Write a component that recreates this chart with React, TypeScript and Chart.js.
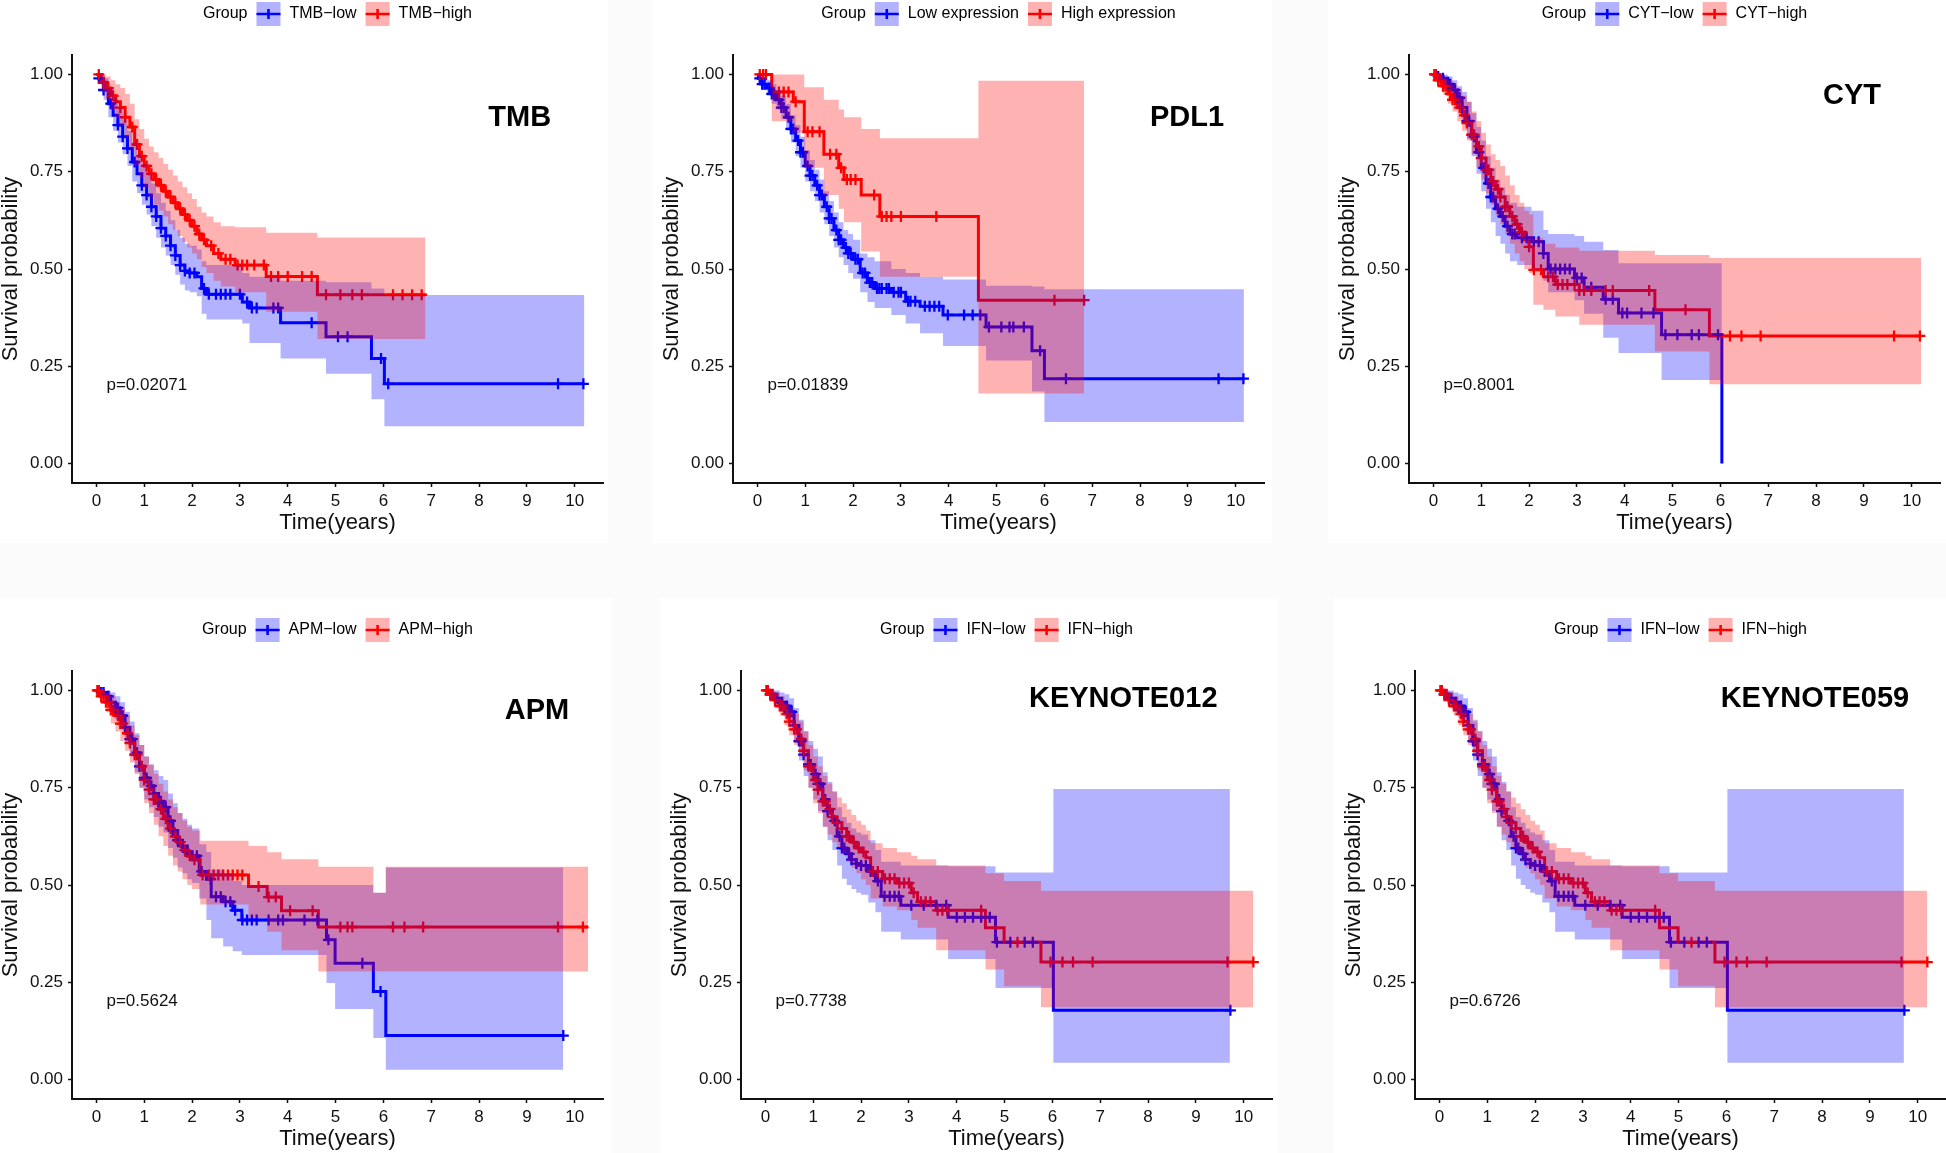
import React, { useEffect, useRef } from "react";
import { Chart, registerables } from "chart.js";

Chart.register(...registerables);

const FONT = '"Liberation Sans", Arial, Helvetica, sans-serif';
Chart.defaults.font.family = FONT;

// ---------- axes ----------
const xTicks = [0, 1, 2, 3, 4, 5, 6, 7, 8, 9, 10];
const yTicks = [0, 0.25, 0.5, 0.75, 1];

// ---------- TMB ----------
const tmbLowT = [0, 0.05, 0.15, 0.25, 0.35, 0.45, 0.55, 0.65, 0.75, 0.85, 0.95, 1.05, 1.15, 1.25, 1.35, 1.45, 1.55, 1.65, 1.75, 1.85, 1.95, 2.1, 2.2, 2.3, 3.05, 3.2, 3.85, 4.8, 5.75, 6.02, 10.2];
const tmbLowS = [1, 0.99, 0.96, 0.925, 0.895, 0.87, 0.84, 0.81, 0.775, 0.745, 0.715, 0.69, 0.66, 0.635, 0.605, 0.585, 0.56, 0.535, 0.51, 0.495, 0.49, 0.48, 0.45, 0.435, 0.415, 0.4, 0.362, 0.326, 0.27, 0.205, 0.205];
const tmbLowU = [1, 1, 0.99, 0.965, 0.94, 0.915, 0.885, 0.855, 0.825, 0.795, 0.77, 0.745, 0.72, 0.695, 0.67, 0.65, 0.625, 0.6, 0.58, 0.565, 0.56, 0.55, 0.52, 0.51, 0.49, 0.48, 0.47, 0.466, 0.45, 0.433, 0.433];
const tmbLowL = [1, 0.975, 0.935, 0.89, 0.855, 0.825, 0.795, 0.765, 0.725, 0.695, 0.665, 0.64, 0.61, 0.58, 0.555, 0.535, 0.51, 0.485, 0.46, 0.445, 0.44, 0.43, 0.385, 0.37, 0.36, 0.31, 0.27, 0.231, 0.165, 0.096, 0.096];
const tmbLowCens = [0.05, 0.15, 0.3, 0.45, 0.55, 0.65, 0.8, 0.95, 1.05, 1.15, 1.25, 1.35, 1.45, 1.55, 1.65, 1.75, 1.85, 1.95, 2.05, 2.25, 2.35, 2.5, 2.6, 2.7, 2.8, 3.0, 3.15, 3.25, 3.35, 3.7, 3.8, 4.5, 5.05, 5.25, 5.95, 6.1, 9.65, 10.18];

const tmbHighT = [0, 0.1, 0.2, 0.3, 0.4, 0.5, 0.6, 0.7, 0.8, 0.9, 1.0, 1.1, 1.2, 1.3, 1.4, 1.5, 1.6, 1.7, 1.8, 1.9, 2.0, 2.1, 2.2, 2.3, 2.45, 2.6, 2.9, 3.55, 4.62, 6.88];
const tmbHighS = [1, 0.98, 0.965, 0.945, 0.93, 0.915, 0.89, 0.865, 0.82, 0.79, 0.765, 0.745, 0.73, 0.715, 0.7, 0.685, 0.67, 0.655, 0.64, 0.625, 0.61, 0.59, 0.575, 0.56, 0.54, 0.525, 0.51, 0.481, 0.434, 0.434];
const tmbHighU = [1, 1, 0.995, 0.985, 0.975, 0.965, 0.95, 0.925, 0.885, 0.86, 0.835, 0.815, 0.8, 0.785, 0.77, 0.755, 0.74, 0.725, 0.71, 0.695, 0.68, 0.66, 0.645, 0.635, 0.62, 0.61, 0.607, 0.593, 0.581, 0.581];
const tmbHighL = [1, 0.955, 0.935, 0.91, 0.89, 0.87, 0.84, 0.81, 0.765, 0.735, 0.71, 0.685, 0.665, 0.65, 0.635, 0.615, 0.6, 0.585, 0.57, 0.555, 0.54, 0.525, 0.505, 0.49, 0.47, 0.455, 0.44, 0.39, 0.32, 0.32];
const tmbHighCens = [0.05, 0.15, 0.25, 0.35, 0.5, 0.6, 0.75, 0.85, 0.95, 1.05, 1.15, 1.25, 1.35, 1.45, 1.55, 1.65, 1.75, 1.85, 1.95, 2.05, 2.15, 2.25, 2.4, 2.55, 2.7, 2.8, 2.95, 3.05, 3.15, 3.3, 3.5, 3.65, 3.8, 4.0, 4.3, 4.5, 4.8, 5.1, 5.35, 5.55, 6.2, 6.4, 6.6, 6.8];

// ---------- PDL1 ----------
const pdlLowT = [0, 0.02, 0.1, 0.2, 0.3, 0.4, 0.5, 0.6, 0.7, 0.8, 0.9, 1.0, 1.1, 1.2, 1.3, 1.4, 1.5, 1.6, 1.7, 1.8, 1.9, 2.0, 2.15, 2.3, 2.45, 2.8, 3.1, 3.4, 3.88, 4.78, 5.74, 6.0, 10.17];
const pdlLowS = [1, 0.99, 0.975, 0.965, 0.95, 0.935, 0.915, 0.89, 0.86, 0.83, 0.8, 0.765, 0.74, 0.715, 0.69, 0.66, 0.63, 0.6, 0.575, 0.555, 0.54, 0.525, 0.49, 0.465, 0.45, 0.44, 0.417, 0.404, 0.382, 0.351, 0.29, 0.218, 0.218];
const pdlLowU = [1, 1, 0.99, 0.985, 0.975, 0.96, 0.945, 0.925, 0.895, 0.87, 0.84, 0.805, 0.78, 0.755, 0.73, 0.7, 0.675, 0.645, 0.62, 0.6, 0.59, 0.575, 0.54, 0.53, 0.52, 0.5, 0.49, 0.48, 0.473, 0.457, 0.455, 0.448, 0.448];
const pdlLowL = [1, 0.98, 0.96, 0.945, 0.925, 0.91, 0.885, 0.855, 0.825, 0.79, 0.76, 0.725, 0.7, 0.675, 0.645, 0.615, 0.585, 0.555, 0.53, 0.51, 0.49, 0.475, 0.44, 0.415, 0.4, 0.382, 0.36, 0.335, 0.302, 0.265, 0.185, 0.107, 0.107];
const pdlLowCens = [0.05, 0.1, 0.15, 0.25, 0.3, 0.35, 0.45, 0.5, 0.55, 0.65, 0.7, 0.75, 0.85, 0.9, 0.95, 1.05, 1.1, 1.15, 1.25, 1.3, 1.35, 1.45, 1.5, 1.55, 1.65, 1.7, 1.75, 1.85, 1.9, 1.95, 2.05, 2.1, 2.2, 2.25, 2.35, 2.4, 2.5, 2.55, 2.6, 2.7, 2.75, 2.85, 2.95, 3.0, 3.15, 3.2, 3.3, 3.5, 3.6, 3.7, 3.8, 3.98, 4.32, 4.5, 4.66, 4.84, 5.1, 5.27, 5.35, 5.57, 5.91, 6.45, 9.64, 10.16];

const pdlHighT = [0, 0.3, 0.75, 0.98, 1.39, 1.7, 1.81, 2.17, 2.56, 4.62, 6.83];
const pdlHighS = [1, 0.955, 0.93, 0.853, 0.795, 0.76, 0.73, 0.69, 0.635, 0.42, 0.42];
const pdlHighU = [1, 1, 1, 0.967, 0.935, 0.91, 0.89, 0.86, 0.836, 0.984, 0.984];
const pdlHighL = [1, 0.88, 0.85, 0.76, 0.69, 0.655, 0.62, 0.545, 0.48, 0.18, 0.18];
const pdlHighCens = [0.05, 0.12, 0.18, 0.45, 0.55, 0.65, 0.8, 1.05, 1.15, 1.3, 1.52, 1.65, 1.75, 1.87, 1.95, 2.05, 2.44, 2.6, 2.7, 2.8, 3.0, 3.74, 6.21, 6.83];

// ---------- CYT ----------
const cytLowT = [0, 0.1, 0.2, 0.3, 0.4, 0.5, 0.6, 0.7, 0.8, 0.9, 1.0, 1.1, 1.2, 1.3, 1.4, 1.5, 1.6, 1.75, 2.05, 2.3, 2.4, 2.95, 3.15, 3.55, 3.87, 4.77, 6.03];
const cytLowS = [1, 0.995, 0.99, 0.975, 0.96, 0.94, 0.915, 0.88, 0.84, 0.8, 0.76, 0.72, 0.685, 0.655, 0.635, 0.61, 0.59, 0.58, 0.57, 0.54, 0.5, 0.477, 0.453, 0.422, 0.387, 0.331, 0];
const cytLowU = [1, 1, 1, 0.995, 0.985, 0.97, 0.955, 0.93, 0.9, 0.865, 0.83, 0.79, 0.76, 0.73, 0.71, 0.69, 0.67, 0.66, 0.65, 0.6, 0.59, 0.585, 0.57, 0.549, 0.515, 0.515, 0.515];
const cytLowL = [1, 0.985, 0.975, 0.955, 0.935, 0.91, 0.875, 0.835, 0.79, 0.745, 0.7, 0.655, 0.62, 0.585, 0.565, 0.54, 0.52, 0.51, 0.5, 0.47, 0.44, 0.42, 0.385, 0.323, 0.284, 0.215, 0.215];
const cytLowCens = [0.05, 0.1, 0.2, 0.3, 0.35, 0.45, 0.5, 0.55, 0.6, 0.7, 0.75, 0.85, 0.95, 1.05, 1.15, 1.2, 1.25, 1.35, 1.45, 1.55, 1.65, 1.7, 1.85, 1.95, 2.1, 2.2, 2.3, 2.45, 2.55, 2.65, 2.75, 2.85, 3.0, 3.1, 3.3, 3.6, 3.75, 3.95, 4.05, 4.35, 4.6, 4.85, 5.1, 5.4, 5.55, 5.95];

const cytHighT = [0, 0.1, 0.2, 0.3, 0.4, 0.5, 0.6, 0.7, 0.8, 0.9, 1.0, 1.1, 1.2, 1.3, 1.4, 1.5, 1.6, 1.7, 1.8, 1.9, 2.0, 2.09, 2.3, 2.55, 3.05, 4.63, 5.77, 10.2];
const cytHighS = [1, 0.985, 0.97, 0.95, 0.935, 0.915, 0.895, 0.875, 0.845, 0.815, 0.785, 0.755, 0.725, 0.705, 0.685, 0.66, 0.635, 0.615, 0.595, 0.575, 0.557, 0.498, 0.48, 0.46, 0.445, 0.395, 0.328, 0.328];
const cytHighU = [1, 1, 0.995, 0.985, 0.975, 0.96, 0.945, 0.93, 0.905, 0.88, 0.85, 0.82, 0.795, 0.78, 0.765, 0.74, 0.715, 0.69, 0.67, 0.65, 0.64, 0.58, 0.565, 0.555, 0.547, 0.536, 0.528, 0.528];
const cytHighL = [1, 0.97, 0.95, 0.925, 0.905, 0.88, 0.855, 0.83, 0.795, 0.76, 0.73, 0.695, 0.665, 0.64, 0.615, 0.59, 0.565, 0.54, 0.52, 0.5, 0.49, 0.408, 0.395, 0.378, 0.357, 0.288, 0.204, 0.204];
const cytHighCens = [0.02, 0.05, 0.1, 0.15, 0.2, 0.25, 0.35, 0.4, 0.45, 0.55, 0.65, 0.7, 0.8, 0.85, 0.95, 1.0, 1.1, 1.15, 1.25, 1.35, 1.4, 1.5, 1.55, 1.65, 1.75, 1.85, 2.0, 2.1, 2.25, 2.4, 2.5, 2.6, 2.7, 2.8, 2.95, 3.05, 3.15, 3.3, 3.6, 3.75, 4.51, 5.27, 6.2, 6.44, 6.84, 9.63, 10.17];

// ---------- APM ----------
const apmLowT = [0, 0.1, 0.2, 0.3, 0.4, 0.5, 0.6, 0.7, 0.8, 0.9, 1.0, 1.1, 1.2, 1.3, 1.4, 1.5, 1.6, 1.7, 1.8, 1.9, 2.0, 2.15, 2.3, 2.4, 2.65, 2.85, 3.04, 4.81, 4.99, 5.79, 6.05, 9.76];
const apmLowS = [1, 0.995, 0.985, 0.97, 0.955, 0.935, 0.905, 0.875, 0.84, 0.805, 0.775, 0.755, 0.735, 0.715, 0.7, 0.665, 0.64, 0.615, 0.6, 0.585, 0.575, 0.535, 0.515, 0.47, 0.457, 0.435, 0.41, 0.359, 0.299, 0.226, 0.113, 0.113];
const apmLowU = [1, 1, 1, 0.995, 0.985, 0.97, 0.945, 0.92, 0.89, 0.86, 0.83, 0.81, 0.795, 0.78, 0.77, 0.735, 0.71, 0.685, 0.67, 0.655, 0.645, 0.605, 0.585, 0.54, 0.53, 0.51, 0.5, 0.5, 0.5, 0.48, 0.545, 0.545];
const apmLowL = [1, 0.985, 0.97, 0.945, 0.925, 0.9, 0.865, 0.83, 0.79, 0.75, 0.72, 0.7, 0.675, 0.65, 0.635, 0.595, 0.57, 0.545, 0.53, 0.515, 0.505, 0.465, 0.41, 0.363, 0.342, 0.33, 0.32, 0.248, 0.181, 0.107, 0.025, 0.025];
const apmLowCens = [0.05, 0.1, 0.15, 0.25, 0.3, 0.4, 0.45, 0.55, 0.6, 0.7, 0.75, 0.85, 0.9, 1.0, 1.05, 1.15, 1.2, 1.3, 1.35, 1.45, 1.55, 1.6, 1.7, 1.8, 1.9, 2.0, 2.1, 2.2, 2.39, 2.5, 2.6, 2.7, 2.8, 2.9, 3.05, 3.15, 3.25, 3.35, 3.6, 3.8, 3.9, 4.35, 4.62, 4.85, 5.56, 5.94, 9.76];

const apmHighT = [0, 0.1, 0.2, 0.3, 0.4, 0.5, 0.6, 0.7, 0.8, 0.9, 1.0, 1.1, 1.2, 1.3, 1.4, 1.5, 1.6, 1.7, 1.8, 1.9, 2.0, 2.17, 3.18, 3.57, 3.87, 4.64, 5.79, 6.05, 10.28];
const apmHighS = [1, 0.985, 0.97, 0.95, 0.935, 0.915, 0.89, 0.865, 0.835, 0.805, 0.77, 0.745, 0.72, 0.695, 0.67, 0.645, 0.625, 0.61, 0.59, 0.575, 0.565, 0.526, 0.496, 0.469, 0.434, 0.392, 0.392, 0.392, 0.392];
const apmHighU = [1, 1, 0.995, 0.985, 0.97, 0.955, 0.935, 0.91, 0.885, 0.86, 0.83, 0.81, 0.785, 0.76, 0.74, 0.72, 0.7, 0.685, 0.665, 0.65, 0.64, 0.614, 0.6, 0.584, 0.566, 0.547, 0.48, 0.547, 0.547];
const apmHighL = [1, 0.965, 0.945, 0.915, 0.895, 0.87, 0.845, 0.815, 0.785, 0.75, 0.71, 0.685, 0.655, 0.625, 0.6, 0.575, 0.55, 0.535, 0.515, 0.5, 0.49, 0.45, 0.415, 0.38, 0.332, 0.278, 0.278, 0.278, 0.278];
const apmHighCens = [0.02, 0.05, 0.1, 0.15, 0.2, 0.25, 0.3, 0.35, 0.45, 0.5, 0.55, 0.65, 0.7, 0.8, 0.85, 0.95, 1.0, 1.1, 1.2, 1.25, 1.35, 1.45, 1.55, 1.65, 1.75, 1.85, 1.95, 2.05, 2.22, 2.35, 2.45, 2.55, 2.65, 2.75, 2.85, 2.95, 3.05, 3.39, 3.6, 3.75, 4.05, 4.52, 5.1, 5.25, 5.35, 6.2, 6.44, 6.83, 9.65, 10.17];

// ---------- IFN (KEYNOTE012 / KEYNOTE059) ----------
const ifnLowT = [0, 0.1, 0.2, 0.3, 0.4, 0.5, 0.6, 0.7, 0.8, 0.9, 1.0, 1.1, 1.2, 1.3, 1.4, 1.5, 1.6, 1.7, 1.8, 1.9, 2.0, 2.15, 2.3, 2.42, 2.83, 3.82, 4.81, 6.02, 9.71];
const ifnLowS = [1, 0.99, 0.98, 0.97, 0.96, 0.945, 0.91, 0.87, 0.835, 0.81, 0.785, 0.76, 0.72, 0.69, 0.665, 0.625, 0.595, 0.58, 0.565, 0.555, 0.55, 0.535, 0.51, 0.471, 0.448, 0.417, 0.353, 0.178, 0.178];
const ifnLowU = [1, 1, 1, 0.995, 0.99, 0.98, 0.955, 0.925, 0.895, 0.87, 0.85, 0.83, 0.79, 0.765, 0.74, 0.7, 0.675, 0.66, 0.645, 0.635, 0.63, 0.615, 0.59, 0.56, 0.55, 0.548, 0.532, 0.747, 0.747];
const ifnLowL = [1, 0.975, 0.96, 0.945, 0.93, 0.91, 0.865, 0.82, 0.78, 0.75, 0.72, 0.69, 0.65, 0.615, 0.59, 0.55, 0.516, 0.5, 0.49, 0.48, 0.475, 0.455, 0.43, 0.38, 0.36, 0.31, 0.235, 0.043, 0.043];
const ifnLowCens = [0.05, 0.1, 0.2, 0.25, 0.35, 0.45, 0.5, 0.55, 0.6, 0.7, 0.75, 0.8, 0.9, 0.95, 1.05, 1.1, 1.15, 1.25, 1.3, 1.45, 1.55, 1.6, 1.65, 1.75, 1.8, 1.9, 2.0, 2.1, 2.2, 2.35, 2.49, 2.6, 2.7, 2.79, 3.05, 3.31, 3.57, 3.78, 4.0, 4.17, 4.34, 4.51, 4.69, 4.84, 5.12, 5.42, 5.59, 9.72];

const ifnHighT = [0, 0.1, 0.2, 0.3, 0.4, 0.5, 0.6, 0.7, 0.8, 0.9, 1.0, 1.1, 1.2, 1.3, 1.4, 1.5, 1.6, 1.7, 1.8, 1.9, 2.0, 2.1, 2.2, 2.45, 2.75, 3.05, 3.18, 3.57, 4.6, 4.99, 5.76, 10.2];
const ifnHighS = [1, 0.99, 0.975, 0.96, 0.94, 0.92, 0.9, 0.875, 0.845, 0.805, 0.77, 0.745, 0.715, 0.695, 0.675, 0.66, 0.645, 0.625, 0.61, 0.595, 0.585, 0.57, 0.535, 0.516, 0.505, 0.48, 0.457, 0.435, 0.39, 0.353, 0.302, 0.302];
const ifnHighU = [1, 1, 0.995, 0.985, 0.97, 0.955, 0.94, 0.92, 0.895, 0.86, 0.83, 0.805, 0.78, 0.76, 0.74, 0.725, 0.71, 0.695, 0.68, 0.665, 0.655, 0.64, 0.607, 0.595, 0.584, 0.575, 0.566, 0.55, 0.53, 0.51, 0.485, 0.485];
const ifnHighL = [1, 0.975, 0.955, 0.935, 0.91, 0.885, 0.86, 0.83, 0.795, 0.75, 0.71, 0.685, 0.65, 0.63, 0.61, 0.595, 0.58, 0.56, 0.545, 0.53, 0.515, 0.5, 0.465, 0.445, 0.435, 0.41, 0.39, 0.332, 0.283, 0.24, 0.186, 0.186];
const ifnHighCens = [0.02, 0.05, 0.1, 0.15, 0.2, 0.3, 0.35, 0.45, 0.5, 0.6, 0.65, 0.75, 0.8, 0.9, 0.95, 1.05, 1.1, 1.2, 1.25, 1.35, 1.4, 1.5, 1.6, 1.7, 1.75, 1.85, 1.95, 2.05, 2.25, 2.35, 2.5, 2.6, 2.7, 2.8, 2.9, 3.0, 3.1, 3.25, 3.35, 3.45, 3.6, 3.7, 3.8, 4.51, 5.27, 5.96, 6.21, 6.43, 6.84, 9.66, 10.2];

// ---------- styling ----------
const BLUE = "#0000FF";
const RED = "#FF0000";
const BLUE_FILL = "rgba(0,0,255,0.3)";
const RED_FILL = "rgba(255,0,0,0.3)";
const TXT = "#111111";

type Series = { T: number[]; S: number[]; U: number[]; L: number[]; C: number[] };
type PanelDef = {
  low: Series; high: Series; lowLabel: string; highLabel: string;
  title: string; pText: string; titleX: number; titleY: number;
  axisLeft: number; rowTop: number;
};

const PANELS: PanelDef[] = [
  { low: { T: tmbLowT, S: tmbLowS, U: tmbLowU, L: tmbLowL, C: tmbLowCens }, high: { T: tmbHighT, S: tmbHighS, U: tmbHighU, L: tmbHighL, C: tmbHighCens },
    lowLabel: "TMB\u2212low", highLabel: "TMB\u2212high", title: "TMB", pText: "p=0.02071", titleX: 8.85, titleY: 0.888, axisLeft: 72, rowTop: 0 },
  { low: { T: pdlLowT, S: pdlLowS, U: pdlLowU, L: pdlLowL, C: pdlLowCens }, high: { T: pdlHighT, S: pdlHighS, U: pdlHighU, L: pdlHighL, C: pdlHighCens },
    lowLabel: "Low expression", highLabel: "High expression", title: "PDL1", pText: "p=0.01839", titleX: 8.98, titleY: 0.888, axisLeft: 733, rowTop: 0 },
  { low: { T: cytLowT, S: cytLowS, U: cytLowU, L: cytLowL, C: cytLowCens }, high: { T: cytHighT, S: cytHighS, U: cytHighU, L: cytHighL, C: cytHighCens },
    lowLabel: "CYT\u2212low", highLabel: "CYT\u2212high", title: "CYT", pText: "p=0.8001", titleX: 8.75, titleY: 0.945, axisLeft: 1409, rowTop: 0 },
  { low: { T: apmLowT, S: apmLowS, U: apmLowU, L: apmLowL, C: apmLowCens }, high: { T: apmHighT, S: apmHighS, U: apmHighU, L: apmHighL, C: apmHighCens },
    lowLabel: "APM\u2212low", highLabel: "APM\u2212high", title: "APM", pText: "p=0.5624", titleX: 9.21, titleY: 0.947, axisLeft: 72, rowTop: 616 },
  { low: { T: ifnLowT, S: ifnLowS, U: ifnLowU, L: ifnLowL, C: ifnLowCens }, high: { T: ifnHighT, S: ifnHighS, U: ifnHighU, L: ifnHighL, C: ifnHighCens },
    lowLabel: "IFN\u2212low", highLabel: "IFN\u2212high", title: "KEYNOTE012", pText: "p=0.7738", titleX: 7.48, titleY: 0.978, axisLeft: 741, rowTop: 616 },
  { low: { T: ifnLowT, S: ifnLowS, U: ifnLowU, L: ifnLowL, C: ifnLowCens }, high: { T: ifnHighT, S: ifnHighS, U: ifnHighU, L: ifnHighL, C: ifnHighCens },
    lowLabel: "IFN\u2212low", highLabel: "IFN\u2212high", title: "KEYNOTE059", pText: "p=0.6726", titleX: 7.85, titleY: 0.978, axisLeft: 1415, rowTop: 616 },
];

const PANEL_BG = [
  { left: 0, top: 0, width: 608, height: 543 },
  { left: 652, top: 0, width: 620, height: 543 },
  { left: 1328, top: 0, width: 618, height: 543 },
  { left: 0, top: 598, width: 612, height: 555 },
  { left: 660, top: 598, width: 618, height: 555 },
  { left: 1334, top: 598, width: 612, height: 555 },
];

const CANVAS_W = 618;
const CANVAS_H = 543;
const Y_AXIS_W = 81;

function stepAt(T: number[], S: number[], t: number): number {
  let v = S[0];
  for (let i = 0; i < T.length; i++) {
    if (T[i] <= t) v = S[i];
    else break;
  }
  return v;
}

function pts(T: number[], V: number[]) {
  const n = Math.min(T.length, V.length);
  const out: { x: number; y: number }[] = [];
  for (let i = 0; i < n; i++) out.push({ x: T[i], y: V[i] });
  return out;
}

function KMPanel({ p }: { p: PanelDef }) {
  const ref = useRef<HTMLCanvasElement | null>(null);

  useEffect(() => {
    const canvas = ref.current;
    if (!canvas) return;

    const stepLine = (s: Series, color: string, order: number) => ({
      data: pts(s.T, s.S), borderColor: color, borderWidth: 3, stepped: "before",
      pointRadius: 0, fill: false, order,
    });
    const censors = (s: Series, color: string, order: number) => ({
      data: s.C.map((t) => ({ x: t, y: stepAt(s.T, s.S, t) })),
      showLine: false, pointStyle: "cross", pointRadius: 5.5, pointBorderWidth: 2.3,
      pointBorderColor: color, borderColor: color, backgroundColor: color, order,
    });
    const bandUpper = (s: Series, order: number) => ({
      data: pts(s.T, s.U), borderColor: "rgba(0,0,0,0)", borderWidth: 0, stepped: "before",
      pointRadius: 0, fill: false, order,
    });
    const bandLower = (s: Series, fillColor: string, order: number) => ({
      data: pts(s.T, s.L), borderColor: "rgba(0,0,0,0)", borderWidth: 0, stepped: "before",
      pointRadius: 0, fill: "-1", backgroundColor: fillColor, order,
    });

    const overlay = {
      id: "kmOverlay",
      afterDatasetsDraw(chart: any) {
        const { ctx, scales } = chart;
        const xs = scales.x, ys = scales.y;
        ctx.save();
        ctx.fillStyle = "#000";
        ctx.font = `bold 29px ${FONT}`;
        ctx.textAlign = "center";
        ctx.textBaseline = "middle";
        ctx.fillText(p.title, xs.getPixelForValue(p.titleX), ys.getPixelForValue(p.titleY));
        ctx.font = `17px ${FONT}`;
        ctx.textAlign = "left";
        ctx.fillStyle = TXT;
        ctx.fillText(p.pText, xs.getPixelForValue(0.21), ys.getPixelForValue(0.2));
        ctx.restore();
      },
      afterDraw(chart: any) {
        const { ctx, chartArea } = chart;
        ctx.save();
        ctx.font = `16px ${FONT}`;
        ctx.textBaseline = "middle";
        ctx.textAlign = "left";
        const gap = 9, sw = 24, cy = 14;
        const items = [
          { label: p.lowLabel, color: BLUE, fill: BLUE_FILL },
          { label: p.highLabel, color: RED, fill: RED_FILL },
        ];
        const gw = ctx.measureText("Group").width;
        let total = gw;
        items.forEach((it) => { total += gap + sw + gap + ctx.measureText(it.label).width; });
        let x = (chartArea.left + chartArea.right) / 2 - total / 2;
        ctx.fillStyle = "#000";
        ctx.fillText("Group", x, cy);
        x += gw + gap;
        items.forEach((it) => {
          ctx.fillStyle = it.fill;
          ctx.fillRect(x, cy - sw / 2, sw, sw);
          ctx.strokeStyle = it.color;
          ctx.lineWidth = 2.6;
          ctx.beginPath();
          ctx.moveTo(x, cy);
          ctx.lineTo(x + sw, cy);
          ctx.moveTo(x + sw / 2, cy - 5);
          ctx.lineTo(x + sw / 2, cy + 5);
          ctx.stroke();
          x += sw + gap;
          ctx.fillStyle = "#000";
          ctx.fillText(it.label, x, cy);
          x += ctx.measureText(it.label).width + gap;
        });
        ctx.restore();
      },
    };

    const chart = new Chart(canvas, {
      type: "line",
      data: {
        datasets: [
          stepLine(p.low, BLUE, 6),
          stepLine(p.high, RED, 5),
          censors(p.low, BLUE, 4),
          censors(p.high, RED, 3),
          bandUpper(p.low, 2),
          bandLower(p.low, BLUE_FILL, 2),
          bandUpper(p.high, 1),
          bandLower(p.high, RED_FILL, 1),
        ] as any,
      },
      options: {
        animation: false,
        responsive: false,
        devicePixelRatio: 1,
        events: [],
        layout: { padding: { left: 0, right: 6, top: 55, bottom: 0 }, autoPadding: false } as any,
        plugins: { legend: { display: false }, tooltip: { enabled: false }, title: { display: false } },
        scales: {
          x: {
            type: "linear",
            min: -0.51,
            max: 10.59,
            afterBuildTicks: (s: any) => { s.ticks = xTicks.map((v) => ({ value: v })); },
            afterFit: (s: any) => { s.height = 60; },
            ticks: { autoSkip: false, maxRotation: 0, padding: 4, color: TXT, font: { size: 17 }, callback: (v: any) => String(v) },
            grid: { display: true, drawOnChartArea: false, drawTicks: true, tickLength: 4, tickColor: TXT, tickWidth: 1.5, color: TXT },
            border: { display: true, color: TXT, width: 2 },
            title: { display: true, text: "Time(years)", color: TXT, font: { size: 22 }, padding: { top: 0, bottom: 7 } },
          },
          y: {
            type: "linear",
            min: -0.05,
            max: 1.05,
            afterBuildTicks: (s: any) => { s.ticks = yTicks.map((v) => ({ value: v })); },
            afterFit: (s: any) => { s.width = Y_AXIS_W; },
            ticks: { autoSkip: false, padding: 5, color: TXT, font: { size: 17 }, callback: (v: any) => Number(v).toFixed(2) },
            grid: { display: true, drawOnChartArea: false, drawTicks: true, tickLength: 4, tickColor: TXT, tickWidth: 1.5, color: TXT },
            border: { display: true, color: TXT, width: 2 },
            title: { display: true, text: "Survival probability", color: TXT, font: { size: 22 }, padding: { top: 7, bottom: 0 } },
          },
        },
      } as any,
      plugins: [overlay as any],
    });

    return () => { chart.destroy(); };
  }, [p]);

  return (
    <canvas
      ref={ref}
      width={CANVAS_W}
      height={CANVAS_H}
      style={{ position: "absolute", left: p.axisLeft - Y_AXIS_W, top: p.rowTop, width: CANVAS_W, height: CANVAS_H }}
    />
  );
}

export default function App() {
  return (
    <div style={{ position: "absolute", left: 0, top: 0, width: 1946, height: 1153, overflow: "hidden", background: "#fbfbfb" }}>
      {PANEL_BG.map((r, i) => (
        <div key={"bg" + i} style={{ position: "absolute", left: r.left, top: r.top, width: r.width, height: r.height, background: "#ffffff" }} />
      ))}
      {PANELS.map((p, i) => (
        <KMPanel key={i} p={p} />
      ))}
    </div>
  );
}
